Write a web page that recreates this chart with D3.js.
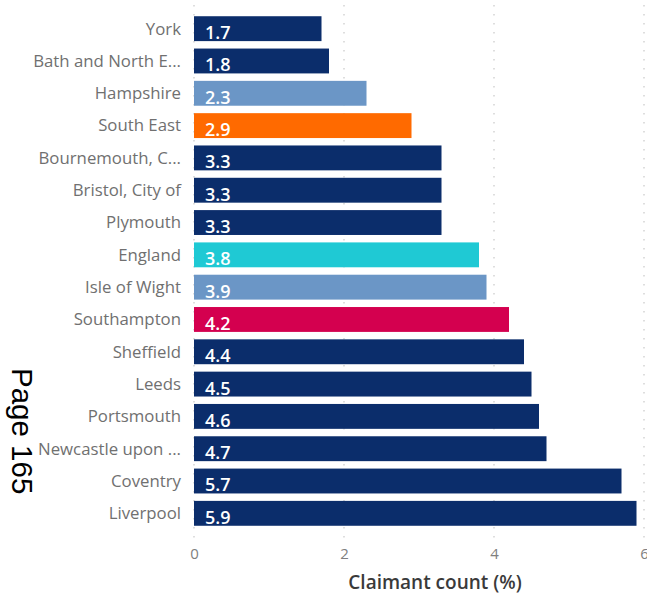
<!DOCTYPE html>
<html>
<head>
<meta charset="utf-8">
<script src="https://cdn.jsdelivr.net/npm/d3@7"></script>
<style>
  body { margin: 0; background: #fff; }
  svg { display: block; }
  .cat text { font-family: "Open Sans", sans-serif; font-size: 16.8px; fill: #707070; }
  .xaxis text { font-family: "Open Sans", sans-serif; font-size: 15px; fill: #808080; }
  .val { font-family: "Open Sans", sans-serif; font-size: 18px; font-weight: 600; fill: #fff; }
</style>
</head>
<body>
<div id="chart"></div>
<script>
const categories = ["York", "Bath and North E...", "Hampshire", "South East", "Bournemouth, C...",
    "Bristol, City of", "Plymouth", "England", "Isle of Wight", "Southampton", "Sheffield",
    "Leeds", "Portsmouth", "Newcastle upon ...", "Coventry", "Liverpool"];
const values = [1.7, 1.8, 2.3, 2.9, 3.3, 3.3, 3.3, 3.8, 3.9, 4.2, 4.4, 4.5, 4.6, 4.7, 5.7, 5.9];
const xTicks = [0, 2, 4, 6];
const highlight = {
    "Hampshire": "#6b96c6",
    "South East": "#ff6a00",
    "England": "#1fc9d4",
    "Isle of Wight": "#6b96c6",
    "Southampton": "#d4004f"
};
const baseColour = "#0b2d6b";

const width = 647, height = 594;
const margin = {top: 13, right: 3, bottom: 64, left: 194};

const svg = d3.select("#chart").append("svg")
    .attr("width", width)
    .attr("height", height);

const x = d3.scaleLinear()
    .domain([0, 6])
    .range([margin.left, width - margin.right]);

const y = d3.scaleBand()
    .domain(categories)
    .range([margin.top, height - margin.bottom - 1])
    .paddingInner(0.23)
    .paddingOuter(0.1);

// dotted grid
svg.append("g")
    .selectAll("line")
    .data(xTicks)
    .join("line")
    .attr("x1", d => x(d)).attr("x2", d => x(d))
    .attr("y1", 5).attr("y2", 541)
    .attr("stroke", "#c8c8c8")
    .attr("stroke-width", 1.2)
    .attr("stroke-dasharray", "1.5,7.5");

const rows = categories.map((c, i) => ({cat: c, v: values[i]}));

svg.append("g")
    .selectAll("rect")
    .data(rows)
    .join("rect")
    .attr("x", x(0))
    .attr("y", d => y(d.cat))
    .attr("width", d => x(d.v) - x(0))
    .attr("height", y.bandwidth())
    .attr("fill", d => highlight[d.cat] || baseColour);

svg.append("g")
    .selectAll("text")
    .data(rows)
    .join("text")
    .attr("class", "val")
    .attr("x", x(0) + 11)
    .attr("y", d => y(d.cat) + y.bandwidth() - 2)
    .text(d => d.v.toFixed(1));

// category axis
svg.append("g")
    .attr("class", "cat")
    .attr("transform", `translate(${x(0) - 13},0)`)
    .call(d3.axisLeft(y).tickSize(0).tickPadding(0))
    .call(g => g.select(".domain").remove())
    .selectAll("text")
    .attr("dy", "0.35em");

// value axis
svg.append("g")
    .attr("class", "xaxis")
    .attr("transform", `translate(0,545)`)
    .call(d3.axisBottom(x).tickValues(xTicks).tickFormat(d3.format("d")).tickSize(0).tickPadding(3))
    .call(g => g.select(".domain").remove());

svg.append("text")
    .attr("x", 435)
    .attr("y", 589)
    .attr("text-anchor", "middle")
    .attr("font-family", "Open Sans, sans-serif")
    .attr("font-size", 19)
    .attr("font-weight", 600)
    .attr("fill", "#3a3a3a")
    .text("Claimant count (%)");

svg.append("text")
    .attr("transform", "translate(12,368) rotate(90)")
    .attr("font-family", "Liberation Sans, Arial, sans-serif")
    .attr("font-size", 29.5)
    .attr("fill", "#000")
    .text("Page 165");
</script>
</body>
</html>
